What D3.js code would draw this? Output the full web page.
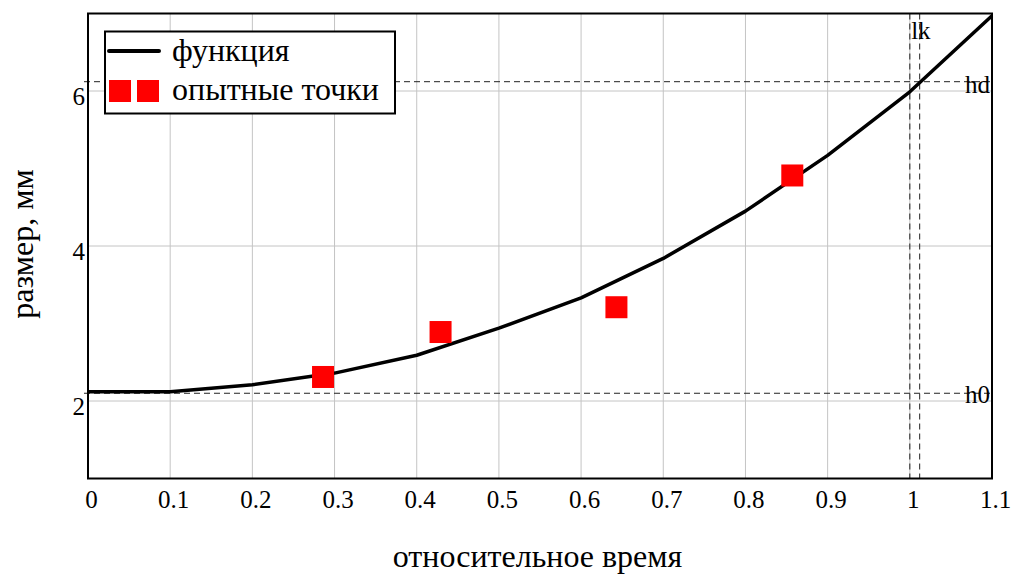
<!DOCTYPE html>
<html>
<head>
<meta charset="utf-8">
<script src="https://cdn.jsdelivr.net/npm/d3@7"></script>
<style>
  html, body { margin: 0; padding: 0; background: #fff; }
  svg { display: block; }
</style>
</head>
<body>
<svg id="chart" width="1012" height="575"></svg>
<script>
// Model curve, sampled every 0.1 of relative time
const curveX = [0, 0.1, 0.2, 0.3, 0.4, 0.5, 0.6, 0.7, 0.8, 0.9, 1.0, 1.1];
const curveY = [2.12, 2.12, 2.21, 2.36, 2.59, 2.94, 3.33, 3.84, 4.45, 5.17, 5.99, 6.97];

// Measured points
const pointX = [0.286, 0.429, 0.643, 0.857];
const pointY = [2.31, 2.89, 3.21, 4.91];

// Reference markers
const markerH0 = 2.10;
const markerHd = 6.12;
const markerX1 = 1.0;
const markerLk = 1.012;

const xTicks = [0, 0.1, 0.2, 0.3, 0.4, 0.5, 0.6, 0.7, 0.8, 0.9, 1, 1.1];
const yTicks = [2, 4, 6];

const legendLabels = ["функция", "опытные точки"];
const xTitle = "относительное время";
const yTitle = "размер, мм";

const SERIF = "'Times New Roman', 'Liberation Serif', 'DejaVu Serif', serif";

const svg = d3.select("#chart");
const pLeft = 88, pRight = 992, pTop = 13.5, pBottom = 478.5;

const x = d3.scaleLinear().domain([0, 1.1]).range([pLeft, pRight]);
const y = d3.scaleLinear().domain([1, 7]).range([pBottom, pTop]);

function label(sel, size) {
  return sel.style("font-family", SERIF).style("font-size", size + "px").attr("fill", "#000");
}

// grid
const grid = svg.append("g");
grid.selectAll("line.vx").data(xTicks.slice(1, -1)).join("line")
  .attr("x1", d => x(d)).attr("x2", d => x(d))
  .attr("y1", pTop).attr("y2", pBottom)
  .attr("stroke", "#c4c4c4").attr("stroke-width", 1);
grid.selectAll("line.hy").data(yTicks).join("line")
  .attr("y1", d => y(d)).attr("y2", d => y(d))
  .attr("x1", pLeft).attr("x2", pRight)
  .attr("stroke", "#c4c4c4").attr("stroke-width", 1);

// dashed markers
const dash = svg.append("g").attr("stroke", "#222").attr("stroke-width", 1)
  .attr("stroke-dasharray", "6,4").attr("fill", "none");
[markerH0, markerHd].forEach(v => {
  dash.append("line").attr("x1", pLeft - 4).attr("x2", pRight)
    .attr("y1", y(v)).attr("y2", y(v));
});
[markerX1, markerLk].forEach(v => {
  dash.append("line").attr("x1", x(v)).attr("x2", x(v))
    .attr("y1", pTop).attr("y2", pBottom);
});

label(svg.append("text").attr("x", x(markerLk) - 8.5).attr("y", pTop + 25.5), 25).text("lk");
label(svg.append("text").attr("x", 965).attr("y", y(markerHd) + 11), 25).text("hd");
label(svg.append("text").attr("x", 965).attr("y", y(markerH0) + 10), 25).text("h0");

// axes
const xAxis = d3.axisBottom(x).tickValues(xTicks).tickSize(0).tickPadding(12)
  .tickFormat(d => String(d));
const gx = svg.append("g").attr("transform", `translate(0,${pBottom})`).call(xAxis);
gx.select(".domain").remove();
label(gx.selectAll("text"), 25).attr("dx", 3);

const yAxis = d3.axisLeft(y).tickValues(yTicks).tickSize(0).tickPadding(3)
  .tickFormat(d => String(d));
const gy = svg.append("g").attr("transform", `translate(${pLeft},0)`).call(yAxis);
gy.select(".domain").remove();
label(gy.selectAll("text"), 25).attr("dy", "0.55em");

// function curve
const line = d3.line().x(d => x(d[0])).y(d => y(d[1]));
svg.append("path").datum(curveX.map((v, i) => [v, curveY[i]]))
  .attr("d", line).attr("fill", "none").attr("stroke", "#000")
  .attr("stroke-width", 3.5).attr("stroke-linejoin", "round");

// measured points
const sq = 22;
svg.selectAll("rect.pt").data(pointX.map((v, i) => [v, pointY[i]])).join("rect")
  .attr("x", d => x(d[0]) - sq / 2).attr("y", d => y(d[1]) - sq / 2)
  .attr("width", sq).attr("height", sq).attr("fill", "#ff0000");

// plot frame
svg.append("rect").attr("x", pLeft).attr("y", pTop)
  .attr("width", pRight - pLeft).attr("height", pBottom - pTop)
  .attr("fill", "none").attr("stroke", "#000").attr("stroke-width", 2);

// legend
const lg = svg.append("g");
lg.append("rect").attr("x", 105).attr("y", 31.5).attr("width", 290).attr("height", 82)
  .attr("fill", "#fff").attr("stroke", "#000").attr("stroke-width", 2);
lg.append("line").attr("x1", 109).attr("x2", 159).attr("y1", 51).attr("y2", 51)
  .attr("stroke", "#000").attr("stroke-width", 4).attr("stroke-linecap", "round");
[109, 137].forEach(px => {
  lg.append("rect").attr("x", px).attr("y", 80).attr("width", 22).attr("height", 22)
    .attr("fill", "#ff0000");
});
label(lg.append("text").attr("x", 172).attr("y", 61), 32).text(legendLabels[0]);
label(lg.append("text").attr("x", 172).attr("y", 100), 32).text(legendLabels[1]);

// axis titles
label(svg.append("text").attr("x", 537.5).attr("y", 567).attr("text-anchor", "middle"), 32)
  .text(xTitle);
label(svg.append("text").attr("transform", "translate(33,244) rotate(-90)")
  .attr("text-anchor", "middle"), 32).text(yTitle);
</script>
</body>
</html>
